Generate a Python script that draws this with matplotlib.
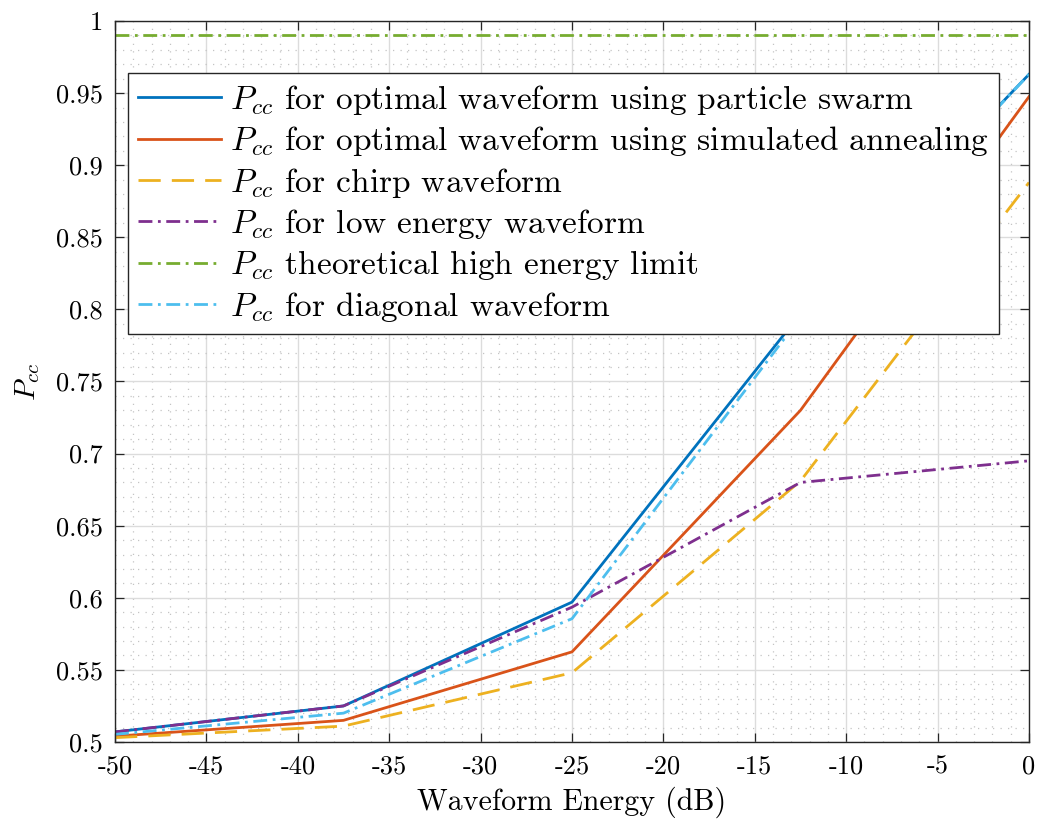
import matplotlib
matplotlib.use("Agg")
import matplotlib.pyplot as plt
from matplotlib.ticker import MultipleLocator, FixedLocator, FixedFormatter

plt.rcParams['font.family'] = 'serif'
plt.rcParams['font.serif'] = ['cmr10']
plt.rcParams['mathtext.fontset'] = 'cm'
plt.rcParams['axes.unicode_minus'] = False
plt.rcParams['axes.formatter.use_mathtext'] = True

# waveform energy (dB)
energy = [-50, -37.5, -25, -12.5, 0]

# probability of correct classification
pcc_swarm = [0.507, 0.525, 0.597, 0.797, 0.963]
pcc_anneal = [0.504, 0.515, 0.5625, 0.730, 0.9475]
pcc_chirp = [0.503, 0.511, 0.548, 0.681, 0.888]
pcc_low = [0.507, 0.525, 0.5935, 0.680, 0.695]
pcc_limit = [0.99, 0.99, 0.99, 0.99, 0.99]
pcc_diag = [0.5053, 0.520, 0.5855, 0.7945, 0.963]

labels = [r'$P_{cc}$ for optimal waveform using particle swarm',
          r'$P_{cc}$ for optimal waveform using simulated annealing',
          r'$P_{cc}$ for chirp waveform',
          r'$P_{cc}$ for low energy waveform',
          r'$P_{cc}$ theoretical high energy limit',
          r'$P_{cc}$ for diagonal waveform']

xticks = [-50, -45, -40, -35, -30, -25, -20, -15, -10, -5, 0]
xticklabels = ['-50', '-45', '-40', '-35', '-30', '-25', '-20', '-15', '-10', '-5', '0']
yticks = [0.5, 0.55, 0.6, 0.65, 0.7, 0.75, 0.8, 0.85, 0.9, 0.95, 1.0]
yticklabels = ['0.5', '0.55', '0.6', '0.65', '0.7', '0.75', '0.8', '0.85', '0.9', '0.95', '1']

fig = plt.figure(figsize=(10.42, 8.27), dpi=100)
ax = fig.add_axes([0.1104, 0.1028, 0.8771, 0.8718])

lw = 2.0
dashdot = (5, 2, 1, 2)
ax.plot(energy, pcc_swarm, color='#0072BD', lw=lw, label=labels[0])
ax.plot(energy, pcc_anneal, color='#D95319', lw=lw, label=labels[1])
ax.plot(energy, pcc_chirp, color='#EDB120', lw=lw, dashes=(8, 4), label=labels[2])
ax.plot(energy, pcc_low, color='#7E2F8E', lw=lw, dashes=dashdot, label=labels[3])
ax.plot(energy, pcc_limit, color='#77AC30', lw=lw, dashes=dashdot, label=labels[4])
ax.plot(energy, pcc_diag, color='#4DBEEE', lw=lw, dashes=dashdot, label=labels[5])

ax.set_xlim(-50, 0)
ax.set_ylim(0.5, 1)
ax.xaxis.set_major_locator(FixedLocator(xticks))
ax.xaxis.set_major_formatter(FixedFormatter(xticklabels))
ax.yaxis.set_major_locator(FixedLocator(yticks))
ax.yaxis.set_major_formatter(FixedFormatter(yticklabels))
ax.xaxis.set_minor_locator(MultipleLocator(1))
ax.yaxis.set_minor_locator(MultipleLocator(0.01))

ax.grid(which='major', color='#dcdcdc', lw=1, ls='-')
ax.grid(which='minor', color='#c4c4c4', lw=0.9, ls=(0, (1, 5)))
ax.set_axisbelow(True)
ax.tick_params(which='major', direction='in', length=6.5, width=0.9, color='#262626',
               top=True, right=True, labelsize=19, pad=9)
ax.tick_params(which='minor', length=0, top=True, right=True)
for s in ax.spines.values():
    s.set_color('#262626')
    s.set_linewidth(1.0)

ax.set_xlabel('Waveform Energy (dB)', fontsize=21.5, labelpad=6)
ax.set_ylabel(r'$P_{cc}$', fontsize=21, labelpad=10)

leg = ax.legend(loc='upper left', bbox_to_anchor=(0.0142, 0.928), borderaxespad=0,
                fontsize=24, handlelength=2.5, handletextpad=0.25, labelspacing=0.22,
                borderpad=0.3, fancybox=False, framealpha=1, edgecolor='#262626')
leg.get_frame().set_linewidth(1.0)

fig.savefig('out.png', dpi=100)
